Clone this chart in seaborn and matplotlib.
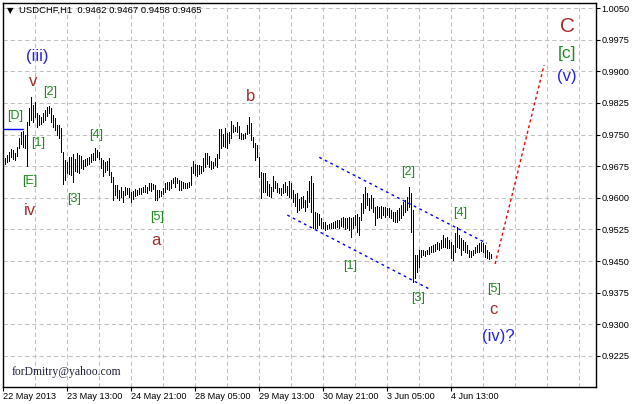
import matplotlib
matplotlib.use("Agg")
import numpy as np
import pandas as pd
import seaborn as sns
from matplotlib import pyplot as plt
from matplotlib import transforms

sns.set_theme(style="white")
plt.rcParams["font.family"] = ["Liberation Sans", "DejaVu Sans"]
plt.rcParams["lines.scale_dashes"] = False

# USDCHF H1 bars (high / low), oldest first
bar_high = [
    .9694, .9702, .9709, .9716, .9713, .9706, .9720, .9742, .9756, .9758,
    .9749, .9780, .9813, .9839, .9820, .9827, .9801, .9796, .9792, .9801,
    .9808, .9815, .9818, .9813, .9796, .9789, .9773, .9773, .9766, .9709,
    .9690, .9685, .9697, .9697, .9704, .9692, .9706, .9702, .9699, .9690,
    .9692, .9694, .9697, .9704, .9706,
    .9718, .9713, .9709, .9694, .9690, .9685, .9687, .9694, .9661, .9649,
    .9630, .9630, .9619, .9626, .9616, .9626, .9623, .9623, .9614, .9616,
    .9621, .9619, .9623, .9623, .9626, .9630, .9626, .9635, .9635, .9633,
    .9630, .9619, .9619, .9616, .9623, .9635, .9638, .9638, .9642, .9647,
    .9649, .9647, .9642, .9640, .9638, .9635, .9635, .9638, .9673, .9687,
    .9680, .9678, .9678, .9675, .9694, .9706, .9706, .9699, .9687, .9685,
    .9694, .9704, .9763, .9763, .9751, .9766, .9754, .9756, .9782, .9773,
    .9768, .9780, .9770, .9754, .9751, .9754, .9773, .9792, .9777, .9744,
    .9730, .9725, .9697, .9661, .9659, .9659, .9640, .9633, .9626, .9652,
    .9640, .9635, .9623, .9623, .9633, .9638, .9628, .9640, .9635, .9619,
    .9609, .9611, .9597, .9602, .9604, .9595, .9616, .9640, .9652, .9635,
    .9566, .9564, .9562, .9552, .9543, .9543, .9536, .9538, .9540, .9543,
    .9545, .9548, .9548, .9552, .9555, .9552, .9552, .9555, .9552, .9555,
    .9559, .9562, .9555, .9588, .9609, .9626, .9611, .9600, .9607, .9600,
    .9578, .9581, .9578, .9581, .9578, .9578, .9576, .9576, .9571, .9566,
    .9566, .9571, .9576, .9583, .9590, .9595, .9602, .9626, .9611, .9571,
    .9465, .9465, .9476, .9476, .9476, .9474, .9476, .9484, .9486, .9488,
    .9491, .9495, .9493, .9500, .9512, .9505, .9507, .9500, .9495, .9488,
    .9517, .9531, .9512, .9505, .9500, .9495, .9488, .9476, .9474, .9476,
    .9484, .9488, .9493, .9495, .9493, .9488, .9476, .9472, .9467,
]
bar_low = [
    .9680, .9685, .9687, .9697, .9692, .9690, .9699, .9718, .9728, .9720,
    .9718, .9675, .9773, .9784, .9780, .9792, .9768, .9773, .9775, .9780,
    .9784, .9794, .9801, .9780, .9768, .9761, .9749, .9742, .9709, .9633,
    .9642, .9659, .9657, .9654, .9638, .9664, .9661, .9659, .9671, .9668,
    .9675, .9678, .9680, .9685, .9690,
    .9690, .9697, .9692, .9671, .9652, .9661, .9666, .9654, .9638, .9595,
    .9607, .9600, .9595, .9602, .9590, .9607, .9609, .9602, .9590, .9597,
    .9604, .9607, .9609, .9609, .9614, .9614, .9611, .9619, .9616, .9621,
    .9595, .9595, .9602, .9604, .9609, .9614, .9621, .9619, .9623, .9635,
    .9626, .9635, .9619, .9619, .9623, .9623, .9623, .9626, .9630, .9659,
    .9654, .9652, .9657, .9659, .9664, .9673, .9680, .9673, .9668, .9671,
    .9678, .9673, .9694, .9718, .9723, .9720, .9718, .9730, .9742, .9756,
    .9758, .9756, .9742, .9739, .9739, .9742, .9751, .9754, .9737, .9720,
    .9690, .9697, .9649, .9600, .9614, .9614, .9607, .9604, .9602, .9616,
    .9623, .9614, .9611, .9607, .9611, .9614, .9607, .9602, .9600, .9590,
    .9581, .9566, .9571, .9576, .9578, .9569, .9578, .9590, .9566, .9529,
    .9529, .9529, .9536, .9529, .9529, .9524, .9526, .9529, .9529, .9529,
    .9529, .9531, .9529, .9533, .9531, .9526, .9529, .9524, .9507, .9529,
    .9536, .9519, .9512, .9548, .9564, .9576, .9583, .9571, .9576, .9566,
    .9536, .9552, .9555, .9552, .9559, .9555, .9559, .9555, .9552, .9545,
    .9543, .9543, .9548, .9552, .9559, .9566, .9571, .9578, .9519, .9401,
    .9410, .9424, .9436, .9460, .9465, .9462, .9467, .9467, .9472, .9472,
    .9474, .9479, .9476, .9481, .9484, .9484, .9481, .9481, .9457, .9453,
    .9472, .9484, .9481, .9465, .9476, .9472, .9469, .9460, .9460, .9465,
    .9469, .9472, .9472, .9474, .9472, .9460, .9457, .9455, .9458,
]

time_labels = ["22 May 2013", "23 May 13:00", "24 May 21:00", "28 May 05:00",
               "29 May 13:00", "30 May 21:00", "3 Jun 05:00", "4 Jun 13:00"]
time_label_bars = [0, 32, 64, 96, 128, 160, 192, 224]
grid_bars = [0, 16, 32, 48, 64, 80, 96, 112, 128, 144, 160, 176, 192, 208,
             224, 240, 256, 272, 288]
price_ticks = [0.9225, 0.9300, 0.9375, 0.9450, 0.9525, 0.9600, 0.9675,
               0.9750, 0.9825, 0.9900, 0.9975, 1.0050]

# channel / projection lines (bar index, price)
upper_channel = ([158, 241.7], [0.9696, 0.9492])
lower_channel = ([142, 212.5], [0.9559, 0.9385])
projection = ([245.9, 270.4], [0.9443, 0.9915])
level_d = ([-0.2, 10], [0.9763, 0.9763])

GREEN = "#1f8a1f"
BROWN = "#a52a2a"
BLUE = "#2222ee"
wave_labels = [
    ("(iii)", 17.0, 0.9935, BLUE, 12),
    ("v", 14.7, 0.9875, BROWN, 12),
    ("[2]", 23.4, 0.9852, GREEN, 9),
    ("[D]", 5.9, 0.9794, GREEN, 9),
    ("[1]", 17.5, 0.9729, GREEN, 9),
    ("[4]", 46.4, 0.9749, GREEN, 9),
    ("[E]", 13.0, 0.9641, GREEN, 9),
    ("iv", 13.4, 0.9571, BROWN, 12),
    ("[3]", 35.4, 0.9597, GREEN, 9),
    ("[5]", 76.9, 0.9554, GREEN, 9),
    ("a", 76.4, 0.9498, BROWN, 12),
    ("b", 123.4, 0.9840, BROWN, 12),
    ("[1]", 173.4, 0.9438, GREEN, 9),
    ("[2]", 202.5, 0.9662, GREEN, 9),
    ("[3]", 207.5, 0.9362, GREEN, 9),
    ("[4]", 228.4, 0.9563, GREEN, 9),
    ("[5]", 245.4, 0.9384, GREEN, 9),
    ("c", 245.0, 0.9334, BROWN, 12),
    ("(iv)?", 247.5, 0.9271, BLUE, 12),
    ("C", 282.0, 1.0006, BROWN, 15),
    ("[c]", 282.0, 0.9943, GREEN, 12.5),
    ("(v)", 282.0, 0.9887, BLUE, 12),
]

bars = np.arange(1, len(bar_high) + 1)
df = pd.DataFrame({
    "bar": np.concatenate([bars, bars]),
    "price": np.concatenate([bar_high, bar_low]),
})

fig = plt.figure(figsize=(6.34, 4.04), dpi=100)
ax = fig.add_axes([3 / 634, 17.3 / 404, 593 / 634, 383.4 / 404])
ax.set_facecolor("white")

# grid
for g in grid_bars:
    ax.axvline(g, color="#c0c0c0", lw=0.75, ls=(0, (3, 2.2)), zorder=0)
for p in price_ticks:
    ax.axhline(p, color="#c0c0c0", lw=0.75, ls=(0, (3, 2.2)), zorder=0)

sns.lineplot(data=df, x="bar", y="price", units="bar", estimator=None,
             color="black", linewidth=0.72, sort=False, legend=False, ax=ax,
             antialiased=False)

ax.plot(*upper_channel, color="#0000ff", lw=1, ls=(0, (2, 2.5)))
ax.plot(*lower_channel, color="#0000ff", lw=1, ls=(0, (2, 2.5)))
ax.plot(*projection, color="#ff0000", lw=1, ls=(0, (2.2, 2)))
ax.plot(*level_d, color="#0000ff", lw=1)

for txt, bx, py, col, fs in wave_labels:
    ax.text(bx, py, txt, color=col, fontsize=fs, ha="center", va="center")

ax.text(4.2, 0.9187, "forDmitry@yahoo.com", family="Liberation Serif",
        fontsize=8.4, color="#202040", ha="left", va="center")

ax.set_xlim(-0.15, 296.35)
ax.set_ylim(0.91521, 1.00612)
ax.set_xlabel("")
ax.set_ylabel("")

ax.set_xticks(time_label_bars)
ax.set_xticklabels(time_labels, ha="left", fontsize=6.6)
offset = transforms.ScaledTranslation(1 / 100, 0, fig.dpi_scale_trans)
for lab in ax.get_xticklabels():
    lab.set_transform(lab.get_transform() + offset)

ax.yaxis.tick_right()
ax.set_yticks(price_ticks)
ax.set_yticklabels([f"{p:.4f}" for p in price_ticks], fontsize=6.6)
ax.tick_params(axis="both", direction="out", length=3, width=0.8,
               color="black", pad=1, labelcolor="black")
ax.tick_params(axis="x", bottom=True, pad=0.5)
ax.tick_params(axis="y", right=True, left=False)

for sp in ax.spines.values():
    sp.set_color("black")
    sp.set_linewidth(1)
    sp.set_visible(True)

fig.text(10 / 634, 1 - 10.7 / 404, "\u25bc", family="DejaVu Sans",
         fontsize=6, ha="center", va="center", color="black")
fig.text(19 / 634, 1 - 10.7 / 404, "USDCHF,H1  0.9462 0.9467 0.9458 0.9465",
         fontsize=6.8, ha="left", va="center", color="black")

fig.savefig("out.png", dpi=100)
